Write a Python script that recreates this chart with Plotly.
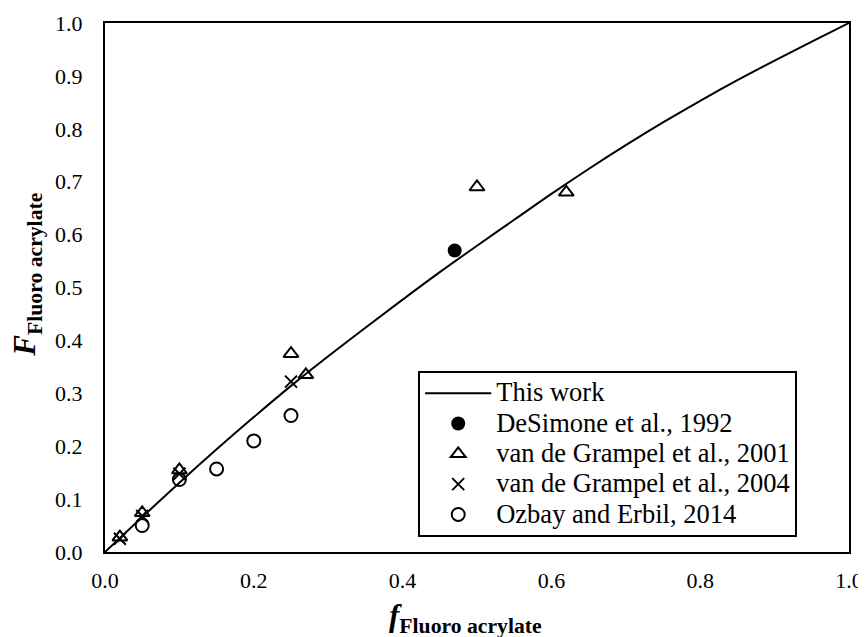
import plotly.graph_objects as go

# Model curve ("This work")
curve_f = [0, 0.05, 0.1, 0.15, 0.2, 0.25, 0.3, 0.35, 0.4, 0.45, 0.5, 0.55, 0.6, 0.65, 0.7, 0.75, 0.8, 0.85, 0.9, 0.95, 1.0]
curve_F = [0, 0.066, 0.131, 0.194, 0.255, 0.314, 0.370, 0.424, 0.477, 0.529, 0.579, 0.628, 0.677, 0.724, 0.769, 0.812, 0.853, 0.892, 0.929, 0.965, 1.0]

desimone_f = [0.47]
desimone_F = [0.57]

grampel2001_f = [0.02, 0.05, 0.10, 0.25, 0.27, 0.50, 0.62]
grampel2001_F = [0.028, 0.074, 0.155, 0.375, 0.335, 0.69, 0.68]

grampel2004_f = [0.02, 0.05, 0.10, 0.25]
grampel2004_F = [0.025, 0.068, 0.148, 0.322]

ozbay_f = [0.05, 0.10, 0.15, 0.20, 0.25]
ozbay_F = [0.050, 0.137, 0.157, 0.210, 0.258]

legend_names = ["This work", "DeSimone et al., 1992", "van de Grampel et al., 2001",
                "van de Grampel et al., 2004", "Ozbay and Erbil, 2014"]

x_ticks = [0, 0.2, 0.4, 0.6, 0.8, 1.0]
y_ticks = [0, 0.1, 0.2, 0.3, 0.4, 0.5, 0.6, 0.7, 0.8, 0.9, 1.0]

FONT = "Liberation Serif, Times New Roman, DejaVu Serif, serif"


def lg(name):
    return f'<span style="font-size:26.5px">{name}</span>'


fig = go.Figure()
fig.add_trace(go.Scatter(x=curve_f, y=curve_F, mode="lines", name=lg(legend_names[0]),
                         line=dict(color="black", width=2, shape="spline")))
fig.add_trace(go.Scatter(x=desimone_f, y=desimone_F, mode="markers", name=lg(legend_names[1]),
                         marker=dict(symbol="circle", size=14, color="black")))
fig.add_trace(go.Scatter(x=grampel2001_f, y=grampel2001_F, mode="markers", name=lg(legend_names[2]),
                         marker=dict(symbol="triangle-up-open", size=13, color="black", line=dict(width=2, color="black"))))
fig.add_trace(go.Scatter(x=grampel2004_f, y=grampel2004_F, mode="markers", name=lg(legend_names[3]),
                         marker=dict(symbol="x-thin-open", size=12, color="black", line=dict(width=2, color="black"))))
fig.add_trace(go.Scatter(x=ozbay_f, y=ozbay_F, mode="markers", name=lg(legend_names[4]),
                         marker=dict(symbol="circle-open", size=13, color="black", line=dict(width=2, color="black"))))

axis_common = dict(showline=True, linecolor="black", linewidth=2, mirror=True,
                   showgrid=False, zeroline=False, ticks="", automargin=False,
                   tickfont=dict(family=FONT, size=22, color="black"))

fig.update_layout(
    width=858, height=629,
    margin=dict(l=97, r=17, t=15, b=85),
    paper_bgcolor="white", plot_bgcolor="white",
    font=dict(family=FONT, color="black"),
    xaxis=dict(range=[0, 1], tickvals=x_ticks, ticktext=[f"{v:.1f}" for v in x_ticks],
               ticklabelstandoff=8, **axis_common),
    yaxis=dict(range=[0, 1], tickvals=y_ticks, ticktext=[f"{v:.1f}" for v in y_ticks],
               ticklabelstandoff=16, **axis_common),
    legend=dict(x=0.421, y=0.342, xanchor="left", yanchor="top",
                bgcolor="white", bordercolor="black", borderwidth=2,
                font=dict(family=FONT, size=21, color="black"),
                tracegroupgap=0, itemwidth=66),
    showlegend=True,
    annotations=[
        dict(text="<b><i>f</i></b><sub><b>Fluoro acrylate</b></sub>",
             xref="paper", yref="paper", x=0.485, y=-0.125,
             xanchor="center", yanchor="middle", showarrow=False,
             font=dict(family=FONT, size=31, color="black")),
        dict(text="<b><i>F</i></b><sub><b>Fluoro acrylate</b></sub>",
             xref="paper", yref="paper", x=-0.105, y=0.524,
             xanchor="center", yanchor="middle", showarrow=False, textangle=-90,
             font=dict(family=FONT, size=31, color="black")),
    ],
)

fig.write_html("out.html")
